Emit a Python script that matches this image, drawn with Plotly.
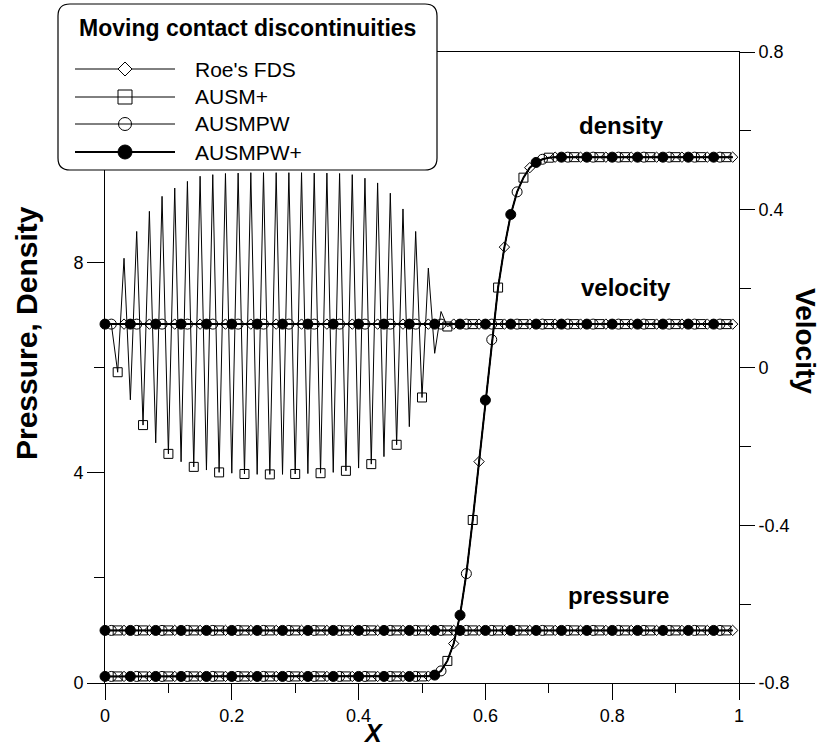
import plotly.graph_objects as go

# ---------------- data ----------------
x = [round(i * 0.01, 2) for i in range(100)]

density = ([0.125] * 51 +
           [0.13, 0.15, 0.23, 0.42, 0.75, 1.29, 2.08, 3.10, 4.21, 5.38,
            6.53, 7.52, 8.29, 8.91, 9.34, 9.61, 9.80, 9.90, 9.96, 9.99] +
           [10.0] * 29)
pressure = [1.0] * 100
velocity = [0.11] * 100

# AUSM+ velocity shows odd-even oscillations left of the contact
velocity_ausm = ([0.11, 0.11, -0.012, 0.277, -0.082, 0.345, -0.146, 0.396, -0.191, 0.434,
                  -0.219, 0.455, -0.239, 0.472, -0.252, 0.485, -0.260, 0.489, -0.266, 0.492,
                  -0.268, 0.493, -0.270, 0.494, -0.271, 0.494, -0.271, 0.494, -0.271, 0.494,
                  -0.270, 0.494, -0.269, 0.493, -0.268, 0.493, -0.266, 0.492, -0.262, 0.489,
                  -0.255, 0.480, -0.245, 0.468, -0.226, 0.442, -0.196, 0.402, -0.150, 0.345,
                  -0.076, 0.252, 0.036, 0.142, 0.104] + [0.11] * 45)

schemes = ["Roe's FDS", "AUSM+", "AUSMPW", "AUSMPW+"]
scheme_velocity = {"Roe's FDS": velocity, "AUSM+": velocity_ausm,
                   "AUSMPW": velocity, "AUSMPW+": velocity}

x_ticks = [0, 0.2, 0.4, 0.6, 0.8, 1]
x_ticklabels = ["0", "0.2", "0.4", "0.6", "0.8", "1"]
y_ticks = [0, 4, 8, 12]
y_ticklabels = ["0", "4", "8", "12"]
y2_ticks = [-0.8, -0.4, 0, 0.4, 0.8]
y2_ticklabels = ["-0.8", "-0.4", "0", "0.4", "0.8"]

# ---------------- styles ----------------
style = {
    "Roe's FDS": dict(symbol="diamond-open", size=8, width=1, offset=3),
    "AUSM+": dict(symbol="square-open", size=9, width=1, offset=2),
    "AUSMPW": dict(symbol="circle-open", size=10, width=1, offset=1),
    "AUSMPW+": dict(symbol="circle", size=10, width=2, offset=0),
}
FONT = "Liberation Sans, Arial, sans-serif"
W, H = 833, 751
L, R, T, B = 105, 94, 52, 68
PW, PH = W - L - R, H - T - B


def px(xp):
    return (xp - L) / PW


def py(yp):
    return (H - B - yp) / PH


fig = go.Figure()

# lines
for s in schemes:
    st = style[s]
    for yv, ax in ((density, "y"), (pressure, "y"), (scheme_velocity[s], "y2")):
        fig.add_trace(go.Scatter(x=x, y=yv, yaxis=ax, mode="lines",
                                 line=dict(color="black", width=st["width"]),
                                 showlegend=False, hoverinfo="skip"))
# markers
for s in schemes:
    st = style[s]
    o = st["offset"]
    for yv, ax in ((density, "y"), (pressure, "y"), (scheme_velocity[s], "y2")):
        fig.add_trace(go.Scatter(x=x[o::4], y=yv[o::4], yaxis=ax, mode="markers",
                                 marker=dict(symbol=st["symbol"], size=st["size"], color="black",
                                             line=dict(color="black", width=1)),
                                 name=s, showlegend=False, cliponaxis=False))

axis_common = dict(showline=True, linecolor="black", linewidth=1, ticks="outside",
                   tickcolor="black", tickwidth=1, showgrid=False, zeroline=False,
                   tickfont=dict(family=FONT, size=18, color="black"))

fig.update_layout(
    width=W, height=H,
    margin=dict(l=L, r=R, t=T, b=B, pad=0),
    paper_bgcolor="white", plot_bgcolor="white",
    xaxis=dict(range=[0, 1], tickvals=x_ticks, ticktext=x_ticklabels, ticklen=16,
               mirror=True,
               minor=dict(tickvals=[0.1, 0.3, 0.5, 0.7, 0.9], ticklen=9, ticks="outside",
                          tickcolor="black", tickwidth=1),
               **axis_common),
    yaxis=dict(range=[0, 12], tickvals=y_ticks, ticktext=y_ticklabels, ticklen=17,
               minor=dict(tickvals=[2, 6, 10], ticklen=10, ticks="outside",
                          tickcolor="black", tickwidth=1),
               **axis_common),
    yaxis2=dict(range=[-0.8, 0.8], overlaying="y", side="right", anchor="x",
                tickvals=y2_ticks, ticktext=y2_ticklabels, ticklen=15,
                minor=dict(tickvals=[-0.6, -0.2, 0.2, 0.6], ticklen=11, ticks="outside",
                           tickcolor="black", tickwidth=1),
                **axis_common),
)

annotations = []
shapes = []

# axis titles
annotations.append(dict(x=px(26), y=py(333), xref="paper", yref="paper", text="Pressure, Density",
                        textangle=-90, showarrow=False, xanchor="center", yanchor="middle",
                        font=dict(family=FONT, size=30, color="black", weight="bold")))
annotations.append(dict(x=px(806), y=py(341), xref="paper", yref="paper", text="Velocity",
                        textangle=90, showarrow=False, xanchor="center", yanchor="middle",
                        font=dict(family=FONT, size=28, color="black", weight="bold")))
annotations.append(dict(x=px(373), y=py(733), xref="paper", yref="paper", text="X",
                        showarrow=False, xanchor="center", yanchor="middle",
                        font=dict(family=FONT, size=25, color="black", weight="bold", style="italic")))

# curve labels
for txt, cx, cy in (("density", 621, 125), ("velocity", 626, 287), ("pressure", 618, 595)):
    annotations.append(dict(x=px(cx), y=py(cy), xref="paper", yref="paper", text=txt,
                            showarrow=False, xanchor="center", yanchor="middle",
                            font=dict(family=FONT, size=24, color="black", weight="bold")))

# legend box (rounded)
x0, x1, y0, y1, r = 58, 437, 4, 170, 12
X0, X1 = px(x0), px(x1)
rx, ry = r / PW, r / PH
Y0, Y1 = py(y1), py(y0)  # bottom, top in paper
path = (f"M {X0+rx},{Y0} L {X1-rx},{Y0} Q {X1},{Y0} {X1},{Y0+ry} "
        f"L {X1},{Y1-ry} Q {X1},{Y1} {X1-rx},{Y1} L {X0+rx},{Y1} Q {X0},{Y1} {X0},{Y1-ry} "
        f"L {X0},{Y0+ry} Q {X0},{Y0} {X0+rx},{Y0} Z")
shapes.append(dict(type="path", path=path, xref="paper", yref="paper", layer="above",
                   fillcolor="white", line=dict(color="black", width=1.2)))

annotations.append(dict(x=px(247), y=py(28), xref="paper", yref="paper",
                        text="Moving contact discontinuities", showarrow=False,
                        xanchor="center", yanchor="middle",
                        font=dict(family=FONT, size=23, color="black", weight="bold")))

rows = [69, 97, 124, 152]
mx = 125
for s, yr in zip(schemes, rows):
    st = style[s]
    shapes.append(dict(type="line", xref="paper", yref="paper", layer="above",
                       x0=px(75), x1=px(175), y0=py(yr), y1=py(yr),
                       line=dict(color="black", width=st["width"])))
    h = 7
    if st["symbol"].startswith("diamond"):
        d = (f"M {px(mx-h)},{py(yr)} L {px(mx)},{py(yr-h)} L {px(mx+h)},{py(yr)} "
             f"L {px(mx)},{py(yr+h)} Z")
        shapes.append(dict(type="path", path=d, xref="paper", yref="paper", layer="above",
                           fillcolor="white", line=dict(color="black", width=1)))
    elif st["symbol"].startswith("square"):
        shapes.append(dict(type="rect", xref="paper", yref="paper", layer="above",
                           x0=px(mx-h), x1=px(mx+h), y0=py(yr+h), y1=py(yr-h),
                           fillcolor="rgba(0,0,0,0)", line=dict(color="black", width=1)))
    elif st["symbol"] == "circle-open":
        shapes.append(dict(type="circle", xref="paper", yref="paper", layer="above",
                           x0=px(mx-h+0.5), x1=px(mx+h-0.5), y0=py(yr+h-0.5), y1=py(yr-h+0.5),
                           fillcolor="rgba(0,0,0,0)", line=dict(color="black", width=1)))
    else:
        shapes.append(dict(type="circle", xref="paper", yref="paper", layer="above",
                           x0=px(mx-h), x1=px(mx+h), y0=py(yr+h), y1=py(yr-h),
                           fillcolor="black", line=dict(color="black", width=1)))
    annotations.append(dict(x=px(193), y=py(yr), xref="paper", yref="paper", text=s,
                            showarrow=False, xanchor="left", yanchor="middle",
                            font=dict(family=FONT, size=21, color="black")))

fig.update_layout(annotations=annotations, shapes=shapes)
fig.write_html("out.html")
